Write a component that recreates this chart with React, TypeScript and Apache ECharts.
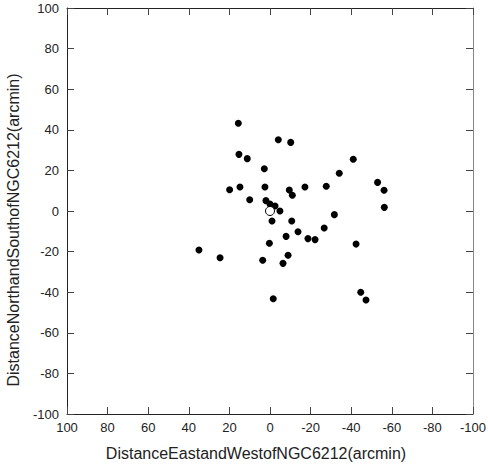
import React, { useEffect, useRef } from "react";
import * as echarts from "echarts";

const stars: [number, number][] = [
  [15.6, 43.2], [-4.1, 35.1], [-10.2, 33.8], [15.3, 27.9], [11.2, 25.8],
  [2.8, 20.8], [19.9, 10.5], [14.8, 11.8], [2.5, 11.8], [-9.5, 10.3],
  [-11.0, 7.8], [-17.2, 11.8], [-27.7, 12.2], [-41.0, 25.5], [-34.1, 18.6],
  [-53.0, 14.1], [-56.2, 10.2], [-56.3, 1.8], [10.0, 5.5], [2.0, 5.1],
  [0.0, 3.4], [-2.5, 2.5], [-4.9, 0.0], [-1.0, -4.9], [-10.7, -4.9],
  [-31.7, -1.8], [-13.8, -10.2], [-7.9, -12.5], [0.3, -15.9], [35.0, -19.2],
  [24.6, -23.0], [3.6, -24.3], [-8.9, -21.8], [-6.4, -25.8], [-1.6, -43.2],
  [-18.7, -13.6], [-22.2, -14.1], [-26.7, -8.4], [-42.4, -16.3], [-44.7, -40.0],
  [-47.3, -43.8],
];
const center: [number, number][] = [[0, 0]];

const axisMin = -100;
const axisMax = 100;
const axisStep = 20;
const xTitle = "DistanceEastandWestofNGC6212(arcmin)";
const yTitle = "DistanceNorthandSouthofNGC6212(arcmin)";

const FONT = "Liberation Sans, Arial, Helvetica, sans-serif";

export default function App() {
  const ref = useRef<HTMLDivElement>(null);
  useEffect(() => {
    if (!ref.current) return;
    const chart = echarts.init(ref.current, undefined, { renderer: "svg" });
    const baseAxis = (lineColor: string) => ({
      type: "value" as const,
      min: axisMin,
      max: axisMax,
      interval: axisStep,
      splitLine: { show: false },
      axisLine: { show: true, onZero: false, lineStyle: { color: lineColor, width: 1 } },
      axisTick: { show: true, inside: true, length: 7, lineStyle: { color: "#444", width: 1 } },
    });
    chart.setOption({
      animation: false,
      backgroundColor: "#fff",
      grid: { left: 67, right: 15, top: 8, bottom: 51, outerBoundsMode: "none", containLabel: false },
      xAxis: [
        {
          ...baseAxis("#222"),
          inverse: true,
          position: "bottom",
          name: xTitle,
          nameLocation: "middle",
          nameGap: 31,
          nameTextStyle: { fontFamily: FONT, fontSize: 16, color: "#222", padding: [0, 28, 0, 0] },
          axisLabel: { fontFamily: FONT, fontSize: 13, color: "#222", margin: 7 },
        },
        {
          ...baseAxis("#222"),
          inverse: true,
          position: "top",
          axisLabel: { show: false },
        },
      ],
      yAxis: [
        {
          ...baseAxis("#222"),
          position: "left",
          name: yTitle,
          nameLocation: "middle",
          nameGap: 46,
          nameTextStyle: { fontFamily: FONT, fontSize: 16, color: "#222", padding: [0, 38, 0, 0] },
          axisLabel: { fontFamily: FONT, fontSize: 13, color: "#222", margin: 8 },
        },
        {
          ...baseAxis("#888"),
          position: "right",
          axisLabel: { show: false },
        },
      ],
      series: [
        {
          type: "scatter",
          xAxisIndex: 0,
          yAxisIndex: 0,
          data: stars,
          symbol: "circle",
          symbolSize: 7,
          itemStyle: { color: "#000", opacity: 1 },
        },
        {
          type: "scatter",
          xAxisIndex: 0,
          yAxisIndex: 0,
          data: center,
          symbol: "circle",
          symbolSize: 9,
          itemStyle: { color: "#fff", borderColor: "#000", borderWidth: 1, opacity: 1 },
          z: 3,
        },
      ],
    });
    return () => chart.dispose();
  }, []);
  return (
    <div
      ref={ref}
      style={{ position: "fixed", left: 0, top: 0, width: 488, height: 465 }}
    />
  );
}
